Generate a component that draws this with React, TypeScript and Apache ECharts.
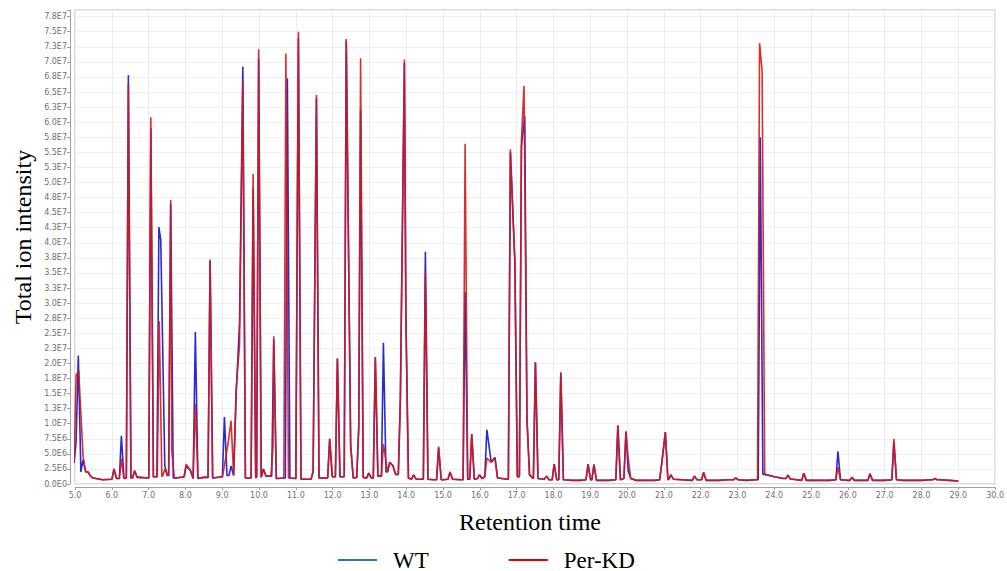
import React, { useEffect, useRef } from "react";
import * as echarts from "echarts";

// Retention time (min) and intensity (×1E6) of each peak apex
const wtPeakTimes = [
  5.03, 5.09, 5.22, 5.41, 6.06, 6.26, 6.45, 6.62, 7.06, 7.28, 7.33, 7.44, 7.6, 8.02, 8.14, 8.27,
  8.67, 9.06, 9.24, 9.38, 9.47, 9.56, 9.84, 9.99, 10.12, 10.4, 10.77, 11.07, 11.47, 11.56, 11.92,
  12.13, 12.37, 12.49, 12.71, 12.76, 12.98, 13.16, 13.38, 13.55, 13.64, 13.84, 13.95, 13.99, 14.2,
  14.52, 14.88, 15.19, 15.6, 15.78, 15.99, 16.19, 16.31, 16.41, 16.83, 16.95, 17.13, 17.22, 17.28,
  17.51, 17.81, 18.02, 18.2, 18.94, 19.1, 19.75, 19.97, 20.03, 20.94, 21.04, 21.19, 21.83, 22.08,
  22.95, 23.62, 24.37, 24.8, 25.73, 26.11, 26.6, 27.25, 28.36,
];
const wtPeakHeights = [
  7.0, 21.3, 4.0, 1.4, 2.5, 8.0, 67.8, 2.2, 59.0, 42.6, 40.5, 3.0, 46.5, 3.0, 2.2, 25.2,
  37.0, 11.1, 3.0, 15.0, 26.6, 69.2, 49.0, 70.5, 2.5, 24.0, 67.3, 74.0, 2.0, 64.0, 7.5,
  20.8, 73.5, 6.4, 9.4, 62.0, 1.8, 21.0, 23.4, 3.6, 3.0, 14.1, 69.8, 28.0, 1.5,
  38.5, 6.0, 2.0, 31.8, 8.3, 1.5, 9.0, 3.6, 4.4, 55.0, 37.0, 56.0, 61.0, 10.8,
  20.2, 1.3, 3.3, 18.5, 3.3, 3.2, 9.7, 8.7, 2.2, 3.3, 8.6, 1.5, 1.3, 1.9,
  1.0, 57.5, 1.4, 1.8, 5.4, 1.1, 1.7, 7.0, 0.9,
];

const kdPeakTimes = [
  5.03, 5.1, 5.22, 5.41, 6.06, 6.26, 6.45, 6.62, 7.06, 7.29, 7.44, 7.6, 7.63, 8.02, 8.14, 8.27,
  8.67, 9.06, 9.17, 9.24, 9.38, 9.47, 9.56, 9.84, 9.99, 10.12, 10.38, 10.4, 10.73, 11.07, 11.47,
  11.56, 11.92, 12.13, 12.37, 12.49, 12.71, 12.76, 12.98, 13.16, 13.38, 13.42, 13.55, 13.64, 13.84,
  13.95, 13.99, 14.2, 14.52, 14.88, 15.19, 15.6, 15.78, 15.99, 16.19, 16.31, 16.41, 16.83, 16.95,
  17.13, 17.2, 17.28, 17.51, 17.81, 18.02, 18.2, 18.94, 19.1, 19.75, 19.97, 20.03, 20.94, 21.04,
  21.19, 21.83, 22.08, 22.95, 23.6, 23.67, 24.37, 24.8, 25.73, 26.11, 26.6, 27.25, 28.36,
];
const kdPeakHeights = [
  18.0, 18.8, 4.5, 1.4, 2.5, 4.2, 66.2, 2.2, 60.8, 27.0, 2.5, 47.1, 5.5, 3.3, 2.2, 13.3,
  37.2, 3.0, 7.2, 10.5, 16.0, 23.0, 66.7, 51.4, 72.1, 2.5, 6.1, 24.5, 71.4, 75.0, 2.2,
  64.5, 7.5, 20.8, 73.8, 6.4, 9.4, 70.6, 1.8, 21.0, 6.6, 5.0, 3.6, 3.0, 13.5,
  70.4, 28.0, 1.5, 34.9, 6.2, 2.0, 56.4, 8.3, 1.5, 4.3, 3.6, 4.4, 55.5, 37.1,
  57.0, 66.0, 10.8, 20.2, 1.3, 3.3, 18.5, 3.3, 3.2, 9.7, 8.7, 4.3, 3.3, 8.6,
  1.5, 1.3, 1.9, 1.0, 73.1, 68.4, 1.5, 1.8, 2.8, 1.1, 1.7, 7.5, 0.9,
];

// Baseline level between peaks (×1E6), sampled every 0.25 min
const baseTimes = [
  5.0, 5.25, 5.5, 5.75, 6.0, 6.25, 6.5, 6.75, 7.0, 7.25, 7.5, 7.75, 8.0, 8.25, 8.5, 8.75, 9.0,
  9.25, 9.5, 9.75, 10.0, 10.25, 10.5, 10.75, 11.0, 11.25, 11.5, 11.75, 12.0, 12.25, 12.5, 12.75,
  13.0, 13.25, 13.5, 13.75, 14.0, 14.25, 14.5, 14.75, 15.0, 15.25, 15.5, 15.75, 16.0, 16.25, 16.5,
  16.75, 17.0, 17.25, 17.5, 17.75, 18.0, 18.25, 18.5, 18.75, 19.0, 19.25, 19.5, 19.75, 20.0, 20.25,
  20.5, 20.75, 21.0, 21.25, 21.5, 21.75, 22.0, 22.25, 22.5, 22.75, 23.0, 23.25, 23.5, 23.75, 24.0,
  24.25, 24.5, 24.75, 25.0, 25.25, 25.5, 25.75, 26.0, 26.25, 26.5, 26.75, 27.0, 27.25, 27.5, 27.75,
  28.0, 28.25, 28.5, 28.75, 29.0,
];
const baseValues = [
  3.5, 2.0, 1.0, 0.7, 0.8, 0.9, 1.0, 1.1, 1.0, 1.2, 1.4, 1.0, 1.2, 0.9, 1.1, 1.0, 1.2,
  1.4, 1.2, 1.0, 1.1, 1.3, 0.9, 1.0, 0.9, 0.8, 0.8, 1.0, 1.2, 1.2, 1.0, 1.1,
  1.0, 1.3, 2.0, 1.6, 1.0, 0.8, 0.8, 0.7, 0.7, 0.8, 0.7, 0.8, 0.9, 1.2, 1.0,
  0.8, 1.2, 1.5, 0.9, 0.8, 0.7, 0.7, 0.6, 0.6, 0.7, 0.6, 0.6, 0.7, 0.9, 0.6,
  0.6, 0.6, 0.7, 0.8, 0.7, 0.6, 0.7, 0.6, 0.6, 0.7, 0.7, 0.6, 0.7, 1.6, 1.2,
  0.9, 0.8, 0.6, 0.6, 0.6, 0.6, 0.7, 0.6, 0.6, 0.6, 0.6, 0.6, 0.7, 0.6, 0.6,
  0.6, 0.7, 0.7, 0.6, 0.5,
];

const seriesNames = ["WT", "Per-KD"];

function nearestBase(t: number): number {
  let best = 0;
  let bestD = Infinity;
  for (let i = 0; i < baseTimes.length; i++) {
    const d = Math.abs(baseTimes[i] - t);
    if (d < bestD) {
      bestD = d;
      best = baseValues[i];
    }
  }
  return best;
}

function buildTrace(times: number[], heights: number[]): number[][] {
  const pts: number[][] = [];
  const L = 0.055;
  const R = 0.07;
  for (let i = 0; i < times.length; i++) {
    const t = times[i];
    const prev = i > 0 ? times[i - 1] : -Infinity;
    const next = i < times.length - 1 ? times[i + 1] : Infinity;
    if (t - prev > L + R) pts.push([t - L, nearestBase(t - L)]);
    pts.push([t, heights[i]]);
    if (next - t > L + R) pts.push([t + R, nearestBase(t + R)]);
  }
  for (let j = 0; j < baseTimes.length; j++) {
    const bt = baseTimes[j];
    const inside = times.some((t) => bt >= t - L - 0.01 && bt <= t + R + 0.01);
    if (!inside) pts.push([bt, baseValues[j]]);
  }
  pts.sort((a, b) => a[0] - b[0]);
  return pts;
}

function fmtY(v: number): string {
  const m = Math.round(v * 10) / 10;
  if (m === 0) return "0.0E0";
  if (m > 77.6) return "";
  const val = m * 1e6;
  const e = Math.floor(Math.log10(val) + 1e-9);
  const mant = val / Math.pow(10, e);
  return mant.toFixed(1) + "E" + e;
}

export default function App() {
  const ref = useRef<HTMLDivElement>(null);
  useEffect(() => {
    if (!ref.current) return;
    const chart = echarts.init(ref.current, undefined, { renderer: "svg" });
    const wtData = buildTrace(wtPeakTimes, wtPeakHeights);
    const kdData = buildTrace(kdPeakTimes, kdPeakHeights);
    const axisGray = "#a0a0a0";
    const serif = "'Liberation Serif', 'Times New Roman', serif";
    chart.setOption({
      animation: false,
      backgroundColor: "#ffffff",
      grid: {
        left: 75,
        right: 8,
        top: 10,
        bottom: 87,
        show: true,
        borderColor: "#b4b4b4",
        borderWidth: 1,
      },
      xAxis: {
        type: "value",
        min: 5,
        max: 30,
        interval: 1,
        offset: 3,
        axisLine: { show: true, onZero: false, lineStyle: { color: axisGray } },
        axisTick: { show: true, length: 3, lineStyle: { color: axisGray } },
        axisLabel: {
          fontSize: 8,
          color: "#707070",
          fontFamily: "'DejaVu Sans', sans-serif",
          margin: 4,
          formatter: (v: number) => v.toFixed(1),
        },
        splitLine: { show: true, lineStyle: { color: "#ececec" } },
      },
      yAxis: {
        type: "value",
        min: 0,
        max: 78.6,
        interval: 2.5,
        offset: 5,
        axisLine: { show: true, onZero: false, lineStyle: { color: axisGray } },
        axisTick: { show: true, length: 3, lineStyle: { color: axisGray } },
        axisLabel: {
          fontSize: 8,
          color: "#707070",
          fontFamily: "'DejaVu Sans', sans-serif",
          margin: 3,
          formatter: fmtY,
        },
        splitLine: { show: true, lineStyle: { color: "#f0f0f0" } },
      },
      legend: {
        left: 333,
        top: 543,
        itemWidth: 39,
        itemHeight: 2,
        itemGap: 80,
        textStyle: {
          fontFamily: serif,
          fontSize: 23,
          lineHeight: 24,
          color: "#000",
          padding: [0, 0, 0, 11],
        },
        data: [
          { name: seriesNames[0], icon: "rect", itemStyle: { color: "#2e75b6" } },
          { name: seriesNames[1], icon: "rect", itemStyle: { color: "#e00000" } },
        ],
      },
      series: [
        {
          name: seriesNames[0],
          type: "line",
          data: wtData,
          symbol: "none",
          showSymbol: false,
          itemStyle: { color: "#2e75b6" },
          lineStyle: { color: "#2a2ad4", width: 1.6 },
          z: 2,
        },
        {
          name: seriesNames[1],
          type: "line",
          data: kdData,
          symbol: "none",
          showSymbol: false,
          itemStyle: { color: "#e00000" },
          lineStyle: { color: "#d41818", width: 1.6, opacity: 0.9 },
          z: 3,
        },
      ],
      graphic: [
        {
          type: "text",
          x: 23,
          y: 237,
          rotation: Math.PI / 2,
          style: {
            text: "Total ion intensity",
            align: "center",
            verticalAlign: "middle",
            fontFamily: serif,
            fontSize: 24,
            fill: "#000",
          },
        },
        {
          type: "text",
          x: 530,
          y: 522,
          style: {
            text: "Retention time",
            align: "center",
            verticalAlign: "middle",
            fontFamily: serif,
            fontSize: 24,
            fill: "#000",
          },
        },
      ],
    });
    return () => chart.dispose();
  }, []);
  return <div ref={ref} style={{ width: 1007, height: 571, position: "absolute", left: 0, top: 0 }} />;
}
